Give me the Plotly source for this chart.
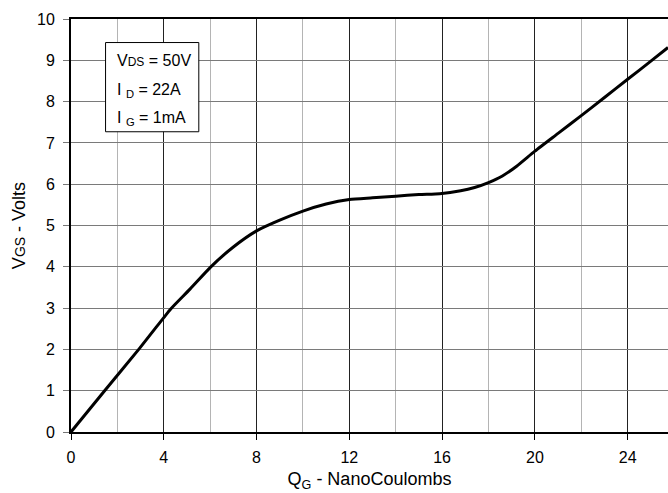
import plotly.graph_objects as go

# Gate charge curve
qg_nc = [0, 1.45, 2.92, 4.0, 4.3, 5.13, 6.03, 7.0, 8.0, 9.0, 10.0, 11.0,
         12.0, 13.0, 14.0, 15.0, 15.9, 16.8, 17.4, 18.0, 18.6, 19.2, 20.0,
         21.0, 22.0, 23.0, 24.0, 25.0, 25.74]
vgs_v = [0, 1.0, 2.0, 2.77, 2.98, 3.46, 4.0, 4.48, 4.87, 5.13, 5.35, 5.52,
         5.63, 5.67, 5.71, 5.75, 5.77, 5.84, 5.92, 6.04, 6.2, 6.43, 6.8,
         7.23, 7.66, 8.1, 8.54, 8.98, 9.31]

x_range = [0, 25.74]
y_range = [0, 10]
x_ticks = [0, 4, 8, 12, 16, 20, 24]
y_ticks = list(range(0, 11))

legend_lines = [
    "V<span style='font-size:12px'>DS</span> = 50V",
    "I <sub>D</sub> = 22A",
    "I <sub>G</sub> = 1mA",
]
legend_x = 1.88
legend_y = [8.99, 8.28, 7.59]
box_x = [1.49, 5.51]
box_y = [7.27, 9.43]

FONT = "Liberation Sans, Arial, sans-serif"

fig = go.Figure()
fig.add_trace(go.Scatter(
    x=qg_nc, y=vgs_v, mode="lines",
    line=dict(color="black", width=3, shape="spline", smoothing=0.6),
    showlegend=False, hoverinfo="skip",
))

fig.update_layout(
    width=668, height=493,
    margin=dict(l=71, r=0, t=19, b=61),
    paper_bgcolor="white", plot_bgcolor="white",
    font=dict(family=FONT, size=16, color="black"),
    showlegend=False,
    xaxis=dict(
        range=x_range, tickvals=x_ticks, ticks="outside", ticklen=6,
        tickcolor="black", tickwidth=1,
        showgrid=True, gridcolor="#222222", gridwidth=1,
        minor=dict(tick0=0, dtick=2, showgrid=True, gridcolor="#b4b4b4", gridwidth=1),
        showline=True, linecolor="black", linewidth=2, mirror=True,
        zeroline=False, automargin=False, ticklabelstandoff=4,
        title=dict(text="Q<sub>G</sub> - NanoCoulombs", font=dict(size=18), standoff=7),
        tickfont=dict(size=16),
    ),
    yaxis=dict(
        range=y_range, tickvals=y_ticks, ticks="outside", ticklen=6,
        tickcolor="#777777", tickwidth=1,
        showgrid=True, gridcolor="#7a7a7a", gridwidth=1,
        showline=True, linecolor="black", linewidth=2,
        zeroline=False, automargin=False, ticklabelstandoff=5,
        title=dict(text="V<span style='font-size:14px'>GS</span> - Volts", font=dict(size=18), standoff=7),
        tickfont=dict(size=16),
    ),
    yaxis2=dict(
        overlaying="y", side="left", anchor="x",
        range=y_range, tick0=1, dtick=2, ticks="outside", ticklen=6,
        tickcolor="black", tickwidth=1,
        showgrid=True, gridcolor="#111111", gridwidth=1,
        showticklabels=False, showline=False, zeroline=False,
    ),
)

fig.add_shape(type="rect", xref="x", yref="y",
              x0=box_x[0], x1=box_x[1], y0=box_y[0], y1=box_y[1],
              line=dict(color="black", width=1), fillcolor="white", layer="above")

for txt, yy in zip(legend_lines, legend_y):
    fig.add_annotation(x=legend_x, y=yy, xref="x", yref="y", text=txt,
                       showarrow=False, xanchor="left", yanchor="middle",
                       font=dict(family=FONT, size=16, color="black"))

fig.write_html("out.html", config={"displayModeBar": False},
               post_script="document.body.style.margin='0';document.body.style.overflow='hidden';")
